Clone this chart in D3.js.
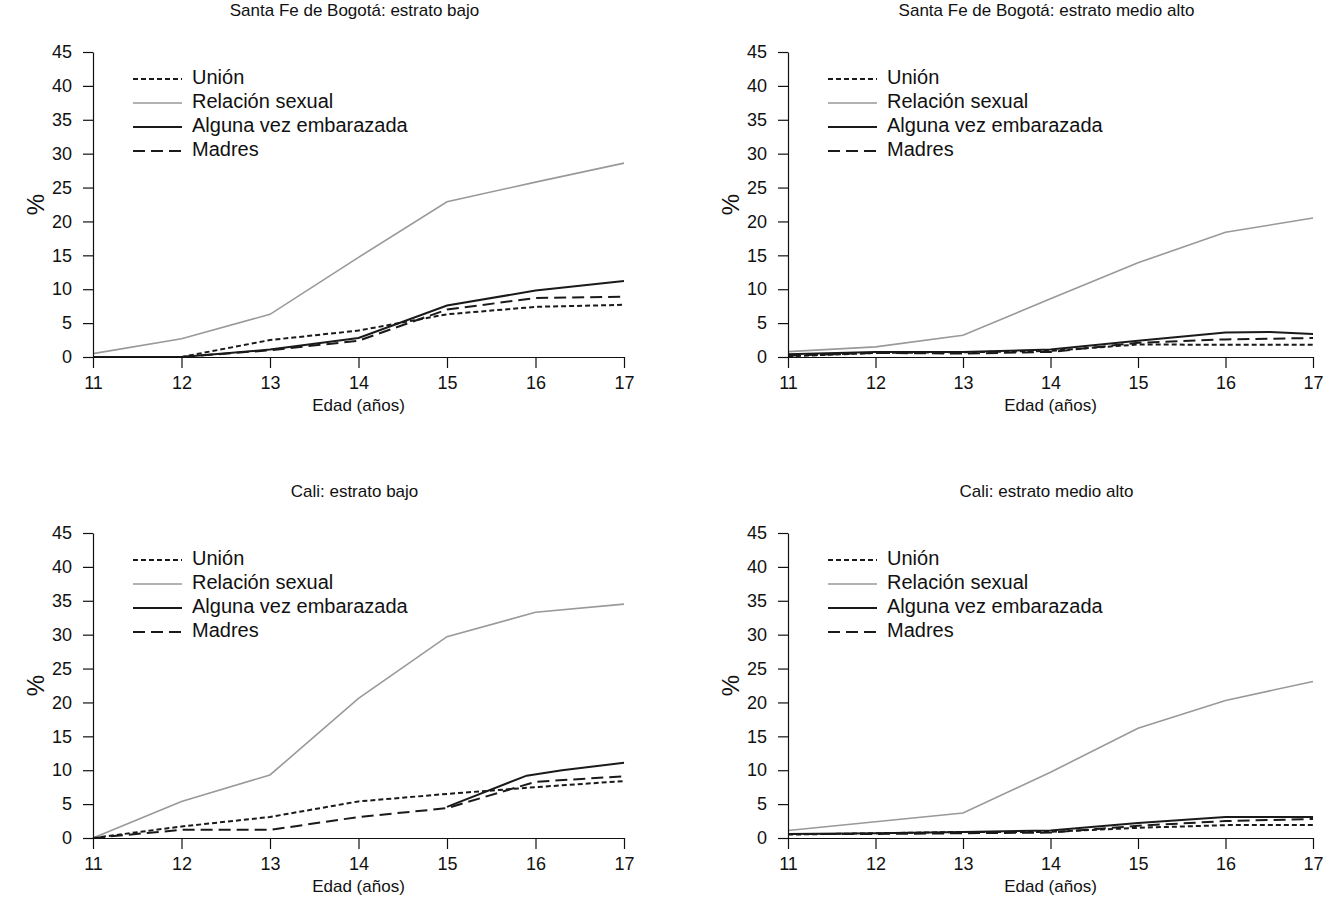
<!DOCTYPE html>
<html>
<head>
<meta charset="utf-8">
<script src="https://cdn.jsdelivr.net/npm/d3@7"></script>
<style>
  body { margin: 0; background: #fff; }
  svg { display: block; font-family: "Liberation Sans", Arial, Helvetica, sans-serif; }
</style>
</head>
<body>
<svg id="chart" width="1339" height="924"></svg>
<script>
// edades (eje x) y etiquetas
const ages = [11, 12, 13, 14, 15, 16, 17];
const yTicks = [0, 5, 10, 15, 20, 25, 30, 35, 40, 45];
const seriesNames = ['Unión', 'Relación sexual', 'Alguna vez embarazada', 'Madres'];
const panelTitles = [
  'Santa Fe de Bogotá: estrato bajo',
  'Santa Fe de Bogotá: estrato medio alto',
  'Cali: estrato bajo',
  'Cali: estrato medio alto'
];

// Bogotá estrato bajo
const bogBajoUnion = [0, 0, 2.5, 3.9, 6.3, 7.4, 7.7];
const bogBajoRelacion = [0.5, 2.7, 6.3, 14.7, 22.9, 25.8, 28.6];
const bogBajoEmbarazada = [0, 0, 1.1, 2.8, 7.6, 9.8, 11.2];
const bogBajoMadres = [0, 0, 1.0, 2.4, 7.0, 8.7, 8.9];

// Bogotá estrato medio alto
const bogAltoUnion = [0.1, 0.6, 0.7, 0.9, 1.85, 1.8, 1.8];
const bogAltoRelacion = [0.8, 1.5, 3.2, 8.6, 13.9, 18.4, 20.5];
const bogAltoEmbAges = [11, 12, 13, 14, 15, 16, 16.5, 17];
const bogAltoEmbarazada = [0.4, 0.75, 0.75, 1.1, 2.4, 3.6, 3.7, 3.4];
const bogAltoMadres = [0.2, 0.6, 0.5, 0.75, 2.1, 2.6, 2.8];

// Cali estrato bajo
const caliBajoUnion = [0, 1.7, 3.1, 5.4, 6.5, 7.5, 8.4];
const caliBajoRelacion = [0, 5.4, 9.3, 20.6, 29.7, 33.3, 34.5];
const caliBajoEmbAges = [15, 15.9, 16.3, 17];
const caliBajoEmbarazada = [4.6, 9.2, 10.0, 11.1];
const caliBajoMadres = [0, 1.2, 1.2, 3.1, 4.4, 8.3, 9.1];

// Cali estrato medio alto
const caliAltoUnion = [0.5, 0.7, 0.9, 0.9, 1.5, 1.9, 1.9];
const caliAltoRelacion = [1.1, 2.4, 3.7, 9.7, 16.2, 20.3, 23.1];
const caliAltoEmbarazada = [0.6, 0.7, 0.9, 1.1, 2.2, 3.1, 3.1];
const caliAltoMadres = [0.6, 0.6, 0.7, 0.8, 1.8, 2.5, 2.8];

const panels = [
  { x0: 93, x1: 624, yTop: 52, yBottom: 357, series: [
    [ages, bogBajoUnion], [ages, bogBajoRelacion], [ages, bogBajoEmbarazada], [ages, bogBajoMadres]] },
  { x0: 788, x1: 1313, yTop: 52, yBottom: 357, series: [
    [ages, bogAltoUnion], [ages, bogAltoRelacion], [bogAltoEmbAges, bogAltoEmbarazada], [ages, bogAltoMadres]] },
  { x0: 93, x1: 624, yTop: 533, yBottom: 838, series: [
    [ages, caliBajoUnion], [ages, caliBajoRelacion], [caliBajoEmbAges, caliBajoEmbarazada], [ages, caliBajoMadres]] },
  { x0: 788, x1: 1313, yTop: 533, yBottom: 838, series: [
    [ages, caliAltoUnion], [ages, caliAltoRelacion], [ages, caliAltoEmbarazada], [ages, caliAltoMadres]] }
];

// estilos de cada serie
const styles = [
  { stroke: '#1a1a1a', width: 2, dash: '5,3' },
  { stroke: '#999999', width: 1.6, dash: null },
  { stroke: '#1a1a1a', width: 2, dash: null },
  { stroke: '#1a1a1a', width: 2, dash: '12,6' }
];

const svg = d3.select('#chart');

panels.forEach(function (p, pi) {
  const x = d3.scaleLinear().domain([11, 17]).range([p.x0, p.x1]);
  const y = d3.scaleLinear().domain([0, 45]).range([p.yBottom, p.yTop]);
  const g = svg.append('g');

  // líneas de datos
  p.series.forEach(function (s, si) {
    const pts = s[0].map((a, i) => [a, s[1][i]]);
    const line = d3.line().x(d => x(d[0])).y(d => y(d[1]));
    g.append('path')
      .datum(pts)
      .attr('d', line)
      .attr('fill', 'none')
      .attr('stroke', styles[si].stroke)
      .attr('stroke-width', styles[si].width)
      .attr('stroke-dasharray', styles[si].dash);
  });

  // ejes
  const yAxis = g.append('g')
    .attr('transform', `translate(${p.x0},0)`)
    .call(d3.axisLeft(y).tickValues(yTicks).tickSize(10).tickSizeOuter(0).tickPadding(11));
  const xAxis = g.append('g')
    .attr('transform', `translate(0,${p.yBottom})`)
    .call(d3.axisBottom(x).tickValues(ages).tickSize(11).tickSizeOuter(0).tickPadding(8).tickFormat(d3.format('d')));
  [yAxis, xAxis].forEach(function (a) {
    a.selectAll('path, line').attr('stroke', '#111').attr('stroke-width', 1.2);
    a.selectAll('text').style('font-size', '18px').attr('fill', '#111');
  });

  // títulos
  const cx = (p.x0 + p.x1) / 2;
  g.append('text')
    .attr('x', cx - 4).attr('y', p.yTop - 36)
    .attr('text-anchor', 'middle')
    .style('font-size', '17px')
    .attr('fill', '#111')
    .text(panelTitles[pi]);
  g.append('text')
    .attr('x', cx).attr('y', p.yBottom + 54)
    .attr('text-anchor', 'middle')
    .style('font-size', '17px')
    .attr('fill', '#111')
    .text('Edad (años)');
  g.append('text')
    .attr('transform', `translate(${p.x0 - 49},${(p.yTop + p.yBottom) / 2}) rotate(-90)`)
    .attr('text-anchor', 'middle')
    .style('font-size', '24px')
    .attr('fill', '#111')
    .text('%');

  // leyenda
  const legend = g.selectAll('.legend')
    .data(seriesNames)
    .enter().append('g')
    .attr('class', 'legend')
    .attr('transform', (d, i) => `translate(${p.x0 + 40},${p.yTop + 27 + i * 24})`);
  legend.append('line')
    .attr('x1', 0).attr('x2', 49)
    .attr('stroke', (d, i) => styles[i].stroke)
    .attr('stroke-width', (d, i) => styles[i].width)
    .attr('stroke-dasharray', (d, i) => styles[i].dash);
  legend.append('text')
    .attr('x', 59).attr('y', -2)
    .attr('dy', '0.35em')
    .style('font-size', '20px')
    .attr('fill', '#111')
    .text(d => d);
});
</script>
</body>
</html>
